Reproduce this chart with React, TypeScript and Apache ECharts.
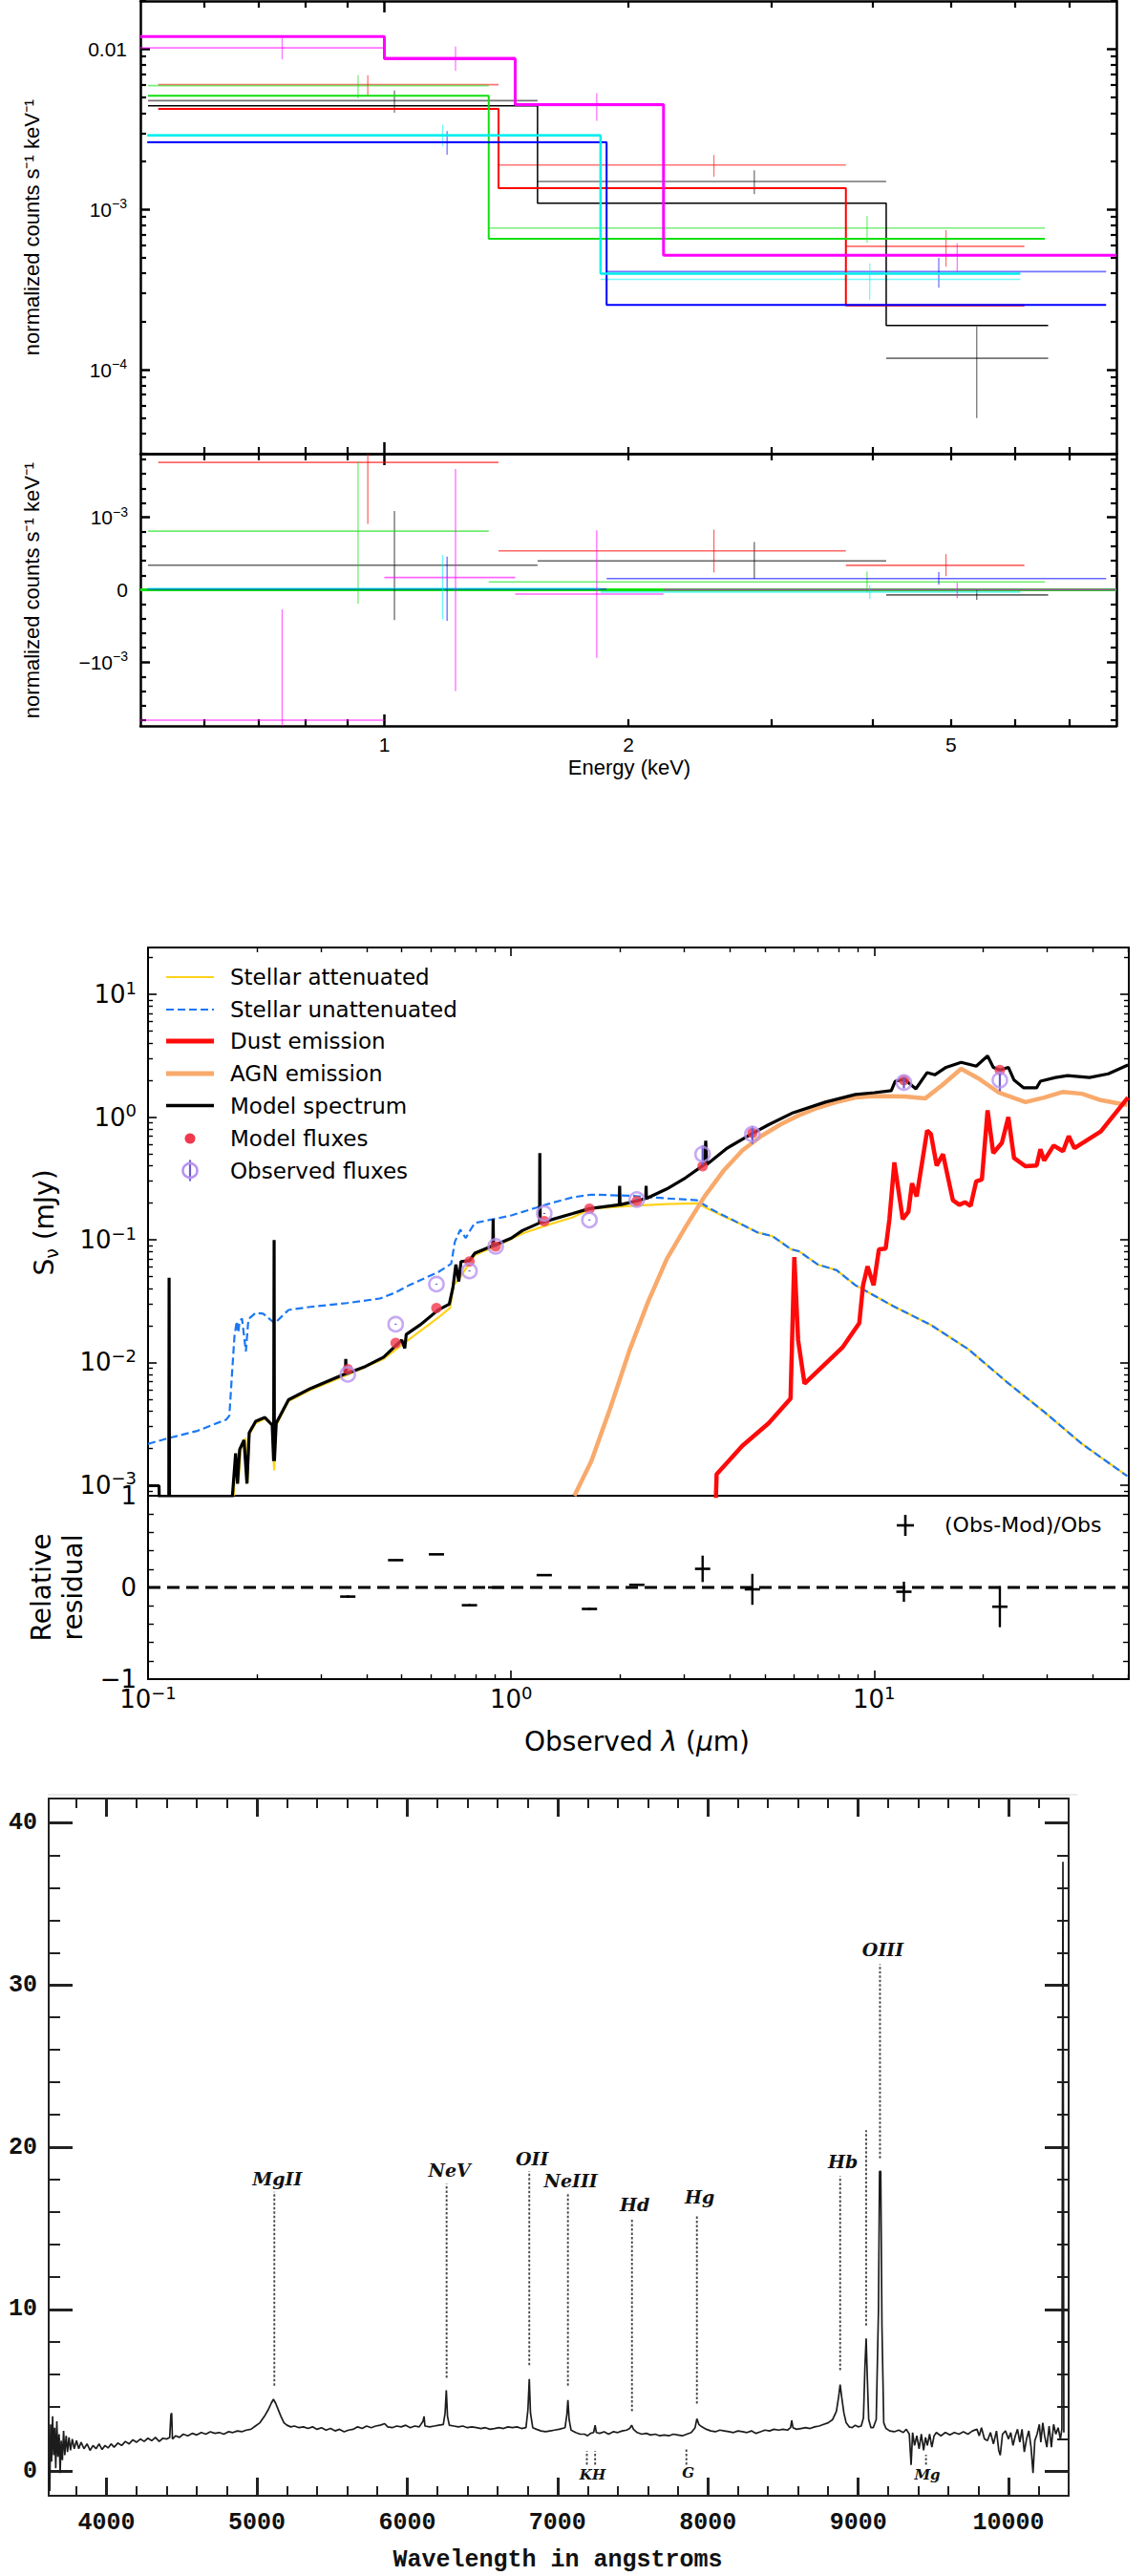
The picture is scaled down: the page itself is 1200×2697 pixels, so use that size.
import React, { useEffect, useRef } from 'react';
import * as echarts from 'echarts';

const lg = (v: number) => Math.log10(v);
const MINUS = '\u2212';

// ================= Panel A: X-ray spectra =================
const energyMin = 0.5;
const energyMax = 8;
const countsMin = 3e-5;
const countsMax = 0.02;
const residCountsMin = -1.88e-3;
const residCountsMax = 1.88e-3;
const energyLabelTicks = [1, 2, 5];
const energyMajorTicks = [1];
const energyMinorTicks = [0.6, 0.7, 0.8, 0.9, 2, 3, 4, 5, 6, 7];
const countsMajorTicks = [1e-4, 1e-3, 1e-2];
const residCountsMajorTicks = [-1e-3, 0, 1e-3];

const xrayColors = ['#000000', '#ff0000', '#10e010', '#0000ff', '#00eeee', '#ff00ff'];
const xrayModelWidths = [1.5, 2, 2, 2, 2.5, 3];

const blackEdges = [0.511, 1.545, 4.16, 6.59];
const blackModel = [0.00444, 0.001097, 0.000189];
const blackData = [0.00478, 0.001496, 0.000118];
const blackErrEnergy = [1.029, 2.86, 5.38];
const blackLow = [0.00402, 0.001248, 0.00005];
const blackHigh = [0.00553, 0.001757, 0.0001866];

const redEdges = [0.526, 1.383, 3.71, 6.16];
const redModel = [0.00425, 0.00136, 0.000252];
const redData = [0.00601, 0.001897, 0.00059];
const redErrEnergy = [0.954, 2.55, 4.93];
const redLow = [0.00516, 0.0016, 0.00044];
const redHigh = [0.00689, 0.00219, 0.000744];

const greenEdges = [0.511, 1.345, 6.53];
const greenModel = [0.00512, 0.000657];
const greenData = [0.00593, 0.000766];
const greenErrEnergy = [0.928, 3.94];
const greenLow = [0.00493, 0.000621];
const greenHigh = [0.00689, 0.000912];

const blueEdges = [0.51, 1.88, 7.77];
const blueModel = [0.00263, 0.000254];
const blueData = [0.00264, 0.00041];
const blueErrEnergy = [1.195, 4.83];
const blueLow = [0.0022, 0.000325];
const blueHigh = [0.00309, 0.000499];

const cyanEdges = [0.51, 1.848, 6.09];
const cyanModel = [0.0029, 0.000398];
const cyanData = [0.00292, 0.000367];
const cyanErrEnergy = [1.18, 3.97];
const cyanLow = [0.00249, 0.000274];
const cyanHigh = [0.00338, 0.000461];

const magentaEdges = [0.5, 1.0, 1.45, 2.21, 8.0];
const magentaModel = [0.012, 0.00873, 0.00451, 0.000518];
const magentaData = [0.0102, 0.0089, 0.00445, 0.00052];
const magentaErrEnergy = [0.748, 1.224, 1.828, 5.09];
const magentaLow = [0.00864, 0.00733, 0.00357, 0.000403];
const magentaHigh = [0.01173, 0.0104, 0.00533, 0.000615];

const xraySets = [
  { name: 'black', edges: blackEdges, model: blackModel, data: blackData, errE: blackErrEnergy, low: blackLow, high: blackHigh },
  { name: 'red', edges: redEdges, model: redModel, data: redData, errE: redErrEnergy, low: redLow, high: redHigh },
  { name: 'green', edges: greenEdges, model: greenModel, data: greenData, errE: greenErrEnergy, low: greenLow, high: greenHigh },
  { name: 'blue', edges: blueEdges, model: blueModel, data: blueData, errE: blueErrEnergy, low: blueLow, high: blueHigh },
  { name: 'cyan', edges: cyanEdges, model: cyanModel, data: cyanData, errE: cyanErrEnergy, low: cyanLow, high: cyanHigh },
  { name: 'magenta', edges: magentaEdges, model: magentaModel, data: magentaData, errE: magentaErrEnergy, low: magentaLow, high: magentaHigh },
];

// ================= Panel B: SED =================
const lambdaMin = 0.1;
const lambdaMax = 50.3;
const fluxMin = 8.2e-4;
const fluxMax = 24.1;
const lambdaMajorTicks = [0.1, 1, 10];
const fluxMajorTicks = [1e-3, 1e-2, 1e-1, 1, 10];
const residMajorTicks = [-1, 0, 1];

const sedNames = ['Stellar attenuated', 'Stellar unattenuated', 'Dust emission', 'AGN emission', 'Model spectrum', 'Model fluxes', 'Observed fluxes'];

const stellarUnattenuated: number[][] = [
  [0.1, 0.00217], [0.1135, 0.00241], [0.1367, 0.00277], [0.1644, 0.00343], [0.1675, 0.00369], [0.1706, 0.00863],
  [0.173, 0.0163], [0.1755, 0.0217], [0.1772, 0.0175], [0.1788, 0.0217], [0.1815, 0.0228], [0.186, 0.0123],
  [0.189, 0.0225], [0.198, 0.0254], [0.2075, 0.025], [0.2198, 0.0217], [0.2234, 0.0209], [0.2438, 0.0268],
  [0.2803, 0.0284], [0.3533, 0.0305], [0.4351, 0.0332], [0.4775, 0.0369], [0.524, 0.0426], [0.6306, 0.0546],
  [0.684, 0.0637], [0.7, 0.0962], [0.7247, 0.1208], [0.75, 0.1032], [0.7767, 0.1233], [0.7949, 0.1371],
  [1.002, 0.158], [1.263, 0.1954], [1.479, 0.222], [1.664, 0.2333], [2.114, 0.2286], [2.685, 0.2173],
  [3.25, 0.21], [3.58, 0.1758], [4.335, 0.1324], [4.77, 0.1148], [5.25, 0.1069], [5.916, 0.0835],
  [6.21, 0.0806], [6.996, 0.0628], [7.886, 0.0565], [8.885, 0.0426], [11.29, 0.0288], [14.34, 0.0202],
  [18.22, 0.01276], [23.14, 0.00698], [29.4, 0.00396], [37.36, 0.00217], [49.8, 0.001186],
];

const stellarAttenuated: number[][] = [
  [0.1722, 0.00082], [0.1748, 0.001815], [0.1772, 0.00103], [0.1805, 0.00209], [0.1856, 0.00241], [0.1878, 0.00103],
  [0.19, 0.00259], [0.198, 0.0032], [0.2099, 0.00348], [0.2198, 0.00309], [0.2225, 0.00132], [0.2255, 0.00309],
  [0.2438, 0.00483], [0.2803, 0.00597], [0.3533, 0.00792], [0.4457, 0.0107], [0.5119, 0.01469], [0.6306, 0.02328],
  [0.6792, 0.0278], [0.695, 0.0426], [0.7161, 0.0473], [0.7949, 0.075], [0.9134, 0.0895], [1.074, 0.1124],
  [1.263, 0.1324], [1.479, 0.1525], [1.664, 0.1795], [2.114, 0.1888], [2.685, 0.1954], [3.25, 0.1982],
  [3.58, 0.172], [4.335, 0.1324], [4.77, 0.1148], [5.25, 0.1069], [5.916, 0.0835], [6.21, 0.0806],
  [6.996, 0.0628], [7.886, 0.0565], [8.885, 0.0426], [11.29, 0.0288], [14.34, 0.0202], [18.22, 0.01276],
  [23.14, 0.00698], [29.4, 0.00396], [37.36, 0.00217], [49.8, 0.001186],
];

const dustEmission: number[][] = [
  [3.665, 0.00077], [3.683, 0.001227], [4.335, 0.00209], [5.125, 0.0032], [5.886, 0.00507], [6.029, 0.0724],
  [6.175, 0.01524], [6.432, 0.00673], [8.173, 0.01321], [9.102, 0.02094], [9.322, 0.04256], [9.594, 0.06067],
  [9.968, 0.04256], [10.31, 0.08356], [10.76, 0.08472], [11.02, 0.1472], [11.37, 0.4266], [11.99, 0.1472],
  [12.43, 0.1694], [12.72, 0.2884], [13.1, 0.2254], [14.0, 0.778], [14.34, 0.726], [14.87, 0.4027],
  [15.48, 0.4977], [16.48, 0.21], [17.17, 0.1928], [17.79, 0.2023], [18.44, 0.1888], [19.11, 0.2992],
  [19.81, 0.3097], [20.54, 1.135], [21.29, 0.5093], [22.49, 0.6166], [23.43, 0.9977], [24.29, 0.4645],
  [26.1, 0.3972], [28.03, 0.4027], [28.71, 0.5458], [29.4, 0.4416], [31.22, 0.5861], [33.15, 0.5272],
  [34.36, 0.6998], [35.61, 0.5585], [42.1, 0.762], [50.03, 1.442],
];

const agnEmission: number[][] = [
  [1.494, 0.00082], [1.664, 0.00157], [1.876, 0.00425], [2.114, 0.0123], [2.382, 0.031], [2.685, 0.0698],
  [3.027, 0.1276], [3.412, 0.2254], [3.846, 0.3648], [4.335, 0.5346], [4.886, 0.6998], [5.507, 0.8673],
  [6.207, 1.035], [6.996, 1.192], [7.886, 1.324], [8.885, 1.442], [10.02, 1.485], [12.13, 1.472],
  [13.84, 1.422], [15.41, 1.824], [17.37, 2.472], [19.57, 2.029], [22.07, 1.581], [26.1, 1.324],
  [29.4, 1.442], [33.15, 1.603], [37.36, 1.549], [42.1, 1.374], [49.8, 1.253],
];

const modelSpectrum: number[][] = [
  [0.1, 0.00099], [0.1072, 0.00099], [0.1074, 0.0008], [0.1141, 0.0008], [0.1143, 0.0491], [0.1146, 0.0008],
  [0.1707, 0.0008], [0.1743, 0.001815], [0.1764, 0.00103], [0.1788, 0.00195], [0.1838, 0.00233], [0.1873, 0.00103],
  [0.19, 0.00268], [0.198, 0.00332], [0.2099, 0.00356], [0.2198, 0.00309], [0.2218, 0.00157], [0.2225, 0.0996],
  [0.2229, 0.00157], [0.2255, 0.0032], [0.2438, 0.00497], [0.2803, 0.00614], [0.3497, 0.0081], [0.3505, 0.0107],
  [0.3513, 0.0081], [0.3967, 0.00927], [0.4457, 0.01106], [0.5, 0.01524], [0.5096, 0.01303], [0.5143, 0.01694],
  [0.5615, 0.02023], [0.6306, 0.02685], [0.6759, 0.02985], [0.6918, 0.04111], [0.7047, 0.0628], [0.7178, 0.0457],
  [0.728, 0.0665], [0.7676, 0.0675], [0.7949, 0.0778], [0.8905, 0.0895], [0.8926, 0.147], [0.8946, 0.0895],
  [1.002, 0.1032], [1.074, 0.1189], [1.198, 0.1371], [1.2, 0.509], [1.203, 0.1371], [1.479, 0.1637],
  [1.644, 0.1795], [1.986, 0.1928], [1.991, 0.2748], [1.996, 0.1928], [2.218, 0.207], [2.349, 0.2173],
  [2.355, 0.2748], [2.36, 0.2173], [2.685, 0.2594], [3.027, 0.3206], [3.412, 0.4111], [3.437, 0.6427],
  [3.46, 0.4111], [3.938, 0.5585], [4.624, 0.7362], [5.125, 0.8673], [5.987, 1.086], [7.338, 1.324],
  [8.885, 1.527], [10.02, 1.581], [11.15, 1.641], [11.43, 1.959], [12.13, 2.029], [13.03, 1.698],
  [14.0, 2.306], [14.69, 2.21], [15.79, 2.545], [17.37, 2.793], [19.11, 2.6], [20.54, 3.148],
  [21.29, 2.545], [22.23, 2.421], [23.43, 2.545], [24.29, 2.0], [25.78, 1.734], [28.03, 1.734],
  [28.71, 1.959], [31.59, 2.099], [34.12, 2.178], [39.2, 2.099], [44.17, 2.254], [50.03, 2.655],
];

const bandWavelengths = [0.355, 0.481, 0.623, 0.768, 0.907, 1.234, 1.644, 2.22, 3.37, 4.62, 12.08, 22.2];
const modelFluxes = [0.0088, 0.0144, 0.0278, 0.0665, 0.0883, 0.142, 0.179, 0.207, 0.397, 0.741, 2.0, 2.42];
const observedFluxes = [0.008, 0.0205, 0.0435, 0.0557, 0.0883, 0.164, 0.145, 0.213, 0.498, 0.726, 1.91, 2.0];
const observedErrors = [0.0001, 0.0002, 0.0004, 0.0006, 0.0009, 0.0016, 0.0015, 0.002, 0.09, 0.12, 0.2, 0.37];

// ================= Panel C: optical spectrum =================
const waveMin = 3615;
const waveMax = 10400;
const optFluxMin = -1.5;
const optFluxMax = 41.5;
const waveMajorTicks = [4000, 5000, 6000, 7000, 8000, 9000, 10000];
const optFluxMajorTicks = [0, 10, 20, 30, 40];

const opticalSpectrum: number[][] = [
  [3616, 0.3], [3622, -1.2], [3628, 2.9], [3634, 0.6], [3641, 3.4], [3648, 1.0], [3655, 2.7], [3662, 0.2],
  [3669, 3.1], [3676, 0.9], [3684, 2.3], [3691, -0.1], [3698, 1.9], [3706, 0.7], [3714, 2.5], [3722, 1.0],
  [3731, 2.2], [3740, 1.2], [3750, 2.1], [3760, 1.3], [3772, 2.0], [3785, 1.4], [3800, 1.9], [3815, 1.4],
  [3830, 1.8], [3850, 1.4], [3870, 1.7], [3890, 1.3], [3910, 1.6], [3930, 1.4], [3950, 1.7], [3970, 1.35],
  [3990, 1.6], [4010, 1.45], [4030, 1.7], [4050, 1.5], [4075, 1.75], [4100, 1.6], [4125, 1.85], [4150, 1.7],
  [4175, 1.95], [4200, 1.8], [4225, 2.0], [4250, 1.85], [4275, 2.05], [4300, 1.9], [4325, 2.1], [4350, 1.85],
  [4375, 2.05], [4400, 2.0], [4420, 2.1], [4428, 3.5], [4433, 3.6], [4438, 2.0], [4460, 2.2], [4485, 2.1],
  [4510, 2.3], [4540, 2.2], [4570, 2.35], [4600, 2.25], [4630, 2.4], [4660, 2.3], [4690, 2.45], [4720, 2.35],
  [4750, 2.4], [4780, 2.3], [4810, 2.45], [4840, 2.4], [4870, 2.5], [4900, 2.45], [4930, 2.55], [4960, 2.6],
  [4990, 2.8], [5020, 3.0], [5050, 3.4], [5075, 3.8], [5095, 4.2], [5110, 4.45], [5125, 4.2], [5140, 3.85],
  [5160, 3.4], [5180, 3.0], [5200, 2.85], [5225, 2.75], [5250, 2.8], [5280, 2.7], [5310, 2.75], [5340, 2.65],
  [5370, 2.75], [5400, 2.6], [5430, 2.7], [5460, 2.55], [5490, 2.65], [5520, 2.5], [5550, 2.6], [5580, 2.45],
  [5610, 2.55], [5640, 2.6], [5670, 2.75], [5700, 2.65], [5730, 2.8], [5760, 2.7], [5790, 2.8], [5820, 2.85],
  [5850, 2.95], [5870, 2.75], [5900, 2.7], [5930, 2.8], [5960, 2.75], [5990, 2.85], [6020, 2.7], [6050, 2.8],
  [6080, 2.75], [6105, 3.1], [6112, 3.4], [6118, 2.8], [6150, 2.75], [6180, 2.8], [6210, 2.85], [6240, 2.9],
  [6252, 3.6], [6260, 5.0], [6268, 3.4], [6280, 2.85], [6310, 2.8], [6340, 2.75], [6370, 2.8], [6400, 2.7],
  [6430, 2.75], [6460, 2.7], [6490, 2.65], [6520, 2.7], [6550, 2.6], [6580, 2.65], [6610, 2.7], [6640, 2.65],
  [6670, 2.75], [6700, 2.7], [6730, 2.75], [6760, 2.65], [6790, 2.7], [6803, 3.8], [6812, 5.7], [6820, 3.6],
  [6835, 2.7], [6860, 2.6], [6890, 2.5], [6920, 2.45], [6950, 2.5], [6980, 2.55], [7010, 2.6], [7050, 2.7],
  [7062, 3.5], [7069, 4.4], [7077, 3.2], [7090, 2.55], [7120, 2.4], [7150, 2.3], [7180, 2.3], [7200, 2.2],
  [7220, 2.35], [7240, 2.4], [7250, 2.85], [7258, 2.4], [7280, 2.35], [7310, 2.45], [7340, 2.3], [7370, 2.45],
  [7400, 2.4], [7430, 2.5], [7460, 2.55], [7480, 2.65], [7493, 2.85], [7505, 2.6], [7530, 2.4], [7560, 2.3],
  [7590, 2.35], [7620, 2.25], [7650, 2.3], [7680, 2.2], [7710, 2.25], [7740, 2.2], [7770, 2.3], [7800, 2.25],
  [7830, 2.2], [7860, 2.3], [7890, 2.4], [7915, 2.7], [7927, 3.25], [7940, 2.9], [7960, 2.75], [7990, 2.6],
  [8020, 2.5], [8050, 2.45], [8080, 2.55], [8110, 2.5], [8140, 2.45], [8170, 2.4], [8200, 2.5], [8230, 2.45],
  [8260, 2.4], [8290, 2.5], [8320, 2.35], [8350, 2.45], [8380, 2.55], [8410, 2.5], [8440, 2.6], [8470, 2.55],
  [8500, 2.6], [8530, 2.55], [8550, 2.7], [8558, 3.15], [8566, 2.7], [8590, 2.6], [8620, 2.65], [8650, 2.7],
  [8680, 2.65], [8710, 2.75], [8740, 2.8], [8770, 2.9], [8800, 3.0], [8830, 3.2], [8855, 3.7], [8870, 4.6],
  [8880, 5.35], [8890, 4.6], [8905, 3.6], [8920, 3.0], [8940, 2.75], [8960, 2.7], [8980, 2.85], [9000, 2.75],
  [9020, 2.8], [9035, 3.3], [9045, 6.5], [9053, 8.2], [9060, 6.0], [9070, 3.2], [9085, 2.7], [9100, 2.7],
  [9120, 3.2], [9135, 10.0], [9142, 18.5], [9150, 18.5], [9158, 9.0], [9170, 3.0], [9185, 2.65], [9210, 2.5],
  [9240, 2.45], [9270, 2.55], [9300, 2.4], [9320, 2.6], [9340, 2.3], [9352, 0.4], [9362, 2.4], [9375, 1.6],
  [9390, 2.2], [9405, 1.4], [9420, 2.3], [9435, 1.3], [9448, 2.1], [9460, 1.6], [9475, 2.3], [9490, 1.5],
  [9505, 2.2], [9520, 2.4], [9550, 2.2], [9580, 2.4], [9610, 2.25], [9640, 2.4], [9670, 2.3], [9700, 2.45],
  [9730, 2.3], [9760, 2.5], [9790, 2.6], [9805, 2.2], [9820, 2.7], [9840, 2.0], [9860, 1.9], [9880, 2.4],
  [9900, 1.7], [9920, 2.5], [9935, 1.3], [9945, 1.0], [9960, 2.3], [9980, 2.5], [10000, 2.0], [10015, 2.4],
  [10030, 1.6], [10045, 2.2], [10060, 2.6], [10075, 1.8], [10090, 2.6], [10105, 1.2], [10120, 2.0], [10135, 2.5],
  [10150, 1.5], [10163, -0.1], [10175, 1.9], [10190, 2.3], [10205, 2.9], [10215, 1.8], [10228, 3.0], [10240, 2.2],
  [10255, 1.5], [10270, 2.8], [10285, 1.5], [10300, 2.9], [10315, 2.3], [10330, 2.7], [10345, 2.0], [10355, 2.6],
  [10362, 37.6], [10368, 2.4],
];

const emissionNames = ['MgII', 'NeV', 'OII', 'NeIII', 'Hd', 'Hg', 'Hb', 'OIII', ''];
const emissionWaves = [5116, 6262, 6812, 7069, 7495, 7927, 8880, 9145, 9053];
const emissionLineBottom = [5.29, 5.77, 6.55, 5.29, 3.72, 4.19, 6.24, 19.31, 9.0];
const emissionLineTop = [17.25, 17.73, 18.52, 17.2, 15.62, 15.75, 18.21, 31.28, 21.04];
const emissionLabelY = [18.05, 18.58, 19.31, 17.96, 16.47, 16.94, 19.09, 32.22, 0];

const absorptionLineWaves = [7195, 7250, 7857, 9451];
const absorptionLineTop = [1.26, 1.26, 1.36, 1.04];
const absorptionLineBottom = [0.41, 0.41, 0.41, 0.41];
const absorptionNames = ['KH', 'G', 'Mg'];
const absorptionLabelWaves = [7220, 7857, 9447];
const absorptionLabelY = [-0.22, -0.07, -0.22];

// ================= helpers =================
function decadeMinors(lo: number, hi: number) {
  const out: number[] = [];
  for (let e = Math.floor(Math.log10(lo)); e <= Math.ceil(Math.log10(hi)); e++) {
    for (let k = 2; k <= 9; k++) {
      const v = k * Math.pow(10, e);
      if (v >= lo * 0.9999 && v <= hi * 1.0001) out.push(v);
    }
  }
  return out;
}
function linearMinors(lo: number, hi: number, step: number, majorStep: number) {
  const out: number[] = [];
  const n0 = Math.ceil(lo / step - 1e-9);
  const n1 = Math.floor(hi / step + 1e-9);
  for (let n = n0; n <= n1; n++) {
    const v = n * step;
    const r = v / majorStep;
    if (Math.abs(r - Math.round(r)) > 1e-6) out.push(v);
  }
  return out;
}

function buildAxes(dim: 'x' | 'y', gridIndex: number, cfg: any) {
  const sides = dim === 'x' ? ['bottom', 'top'] : ['left', 'right'];
  const list: any[] = [];
  sides.forEach((side, si) => {
    const ticksOn = si === 0 ? cfg.primaryTicks !== false : cfg.secondaryTicks !== false;
    const base = {
      type: 'value', gridIndex, position: side, min: cfg.min, max: cfg.max,
      splitLine: { show: false }, minorTick: { show: false }, minorSplitLine: { show: false },
      silent: true, axisPointer: { show: false },
    };
    list.push({
      ...base,
      axisLine: { show: true, onZero: false, lineStyle: { color: cfg.color, width: cfg.lineWidth } },
      axisTick: { show: ticksOn, inside: true, length: cfg.majorLen, customValues: cfg.major, lineStyle: { color: cfg.color, width: cfg.majorWidth } },
      axisLabel: si === 0 && cfg.labels
        ? { show: true, customValues: cfg.labels, formatter: cfg.fmt, margin: cfg.margin, ...cfg.labelStyle }
        : { show: false },
    });
    list.push({
      ...base,
      axisLine: { show: false, onZero: false },
      axisTick: { show: ticksOn, inside: true, length: cfg.minorLen, customValues: cfg.minor, lineStyle: { color: cfg.color, width: cfg.minorWidth } },
      axisLabel: { show: false },
    });
  });
  return list;
}

function clampFns(cs: any) {
  return {
    cx: (v: number) => Math.max(cs.x, Math.min(cs.x + cs.width, v)),
    cy: (v: number) => Math.max(cs.y, Math.min(cs.y + cs.height, v)),
    inY: (v: number) => v >= cs.y - 0.5 && v <= cs.y + cs.height + 0.5,
  };
}

function crossRenderer(color: string, lw: number, opacity: number) {
  return (params: any, api: any) => {
    const { cx, cy, inY } = clampFns(params.coordSys);
    const pL = api.coord([api.value(0), api.value(3)]);
    const pR = api.coord([api.value(1), api.value(3)]);
    const pT = api.coord([api.value(2), api.value(5)]);
    const pB = api.coord([api.value(2), api.value(4)]);
    const children: any[] = [];
    if (inY(pL[1])) {
      children.push({ type: 'line', shape: { x1: cx(pL[0]), y1: pL[1], x2: cx(pR[0]), y2: pR[1] }, style: { stroke: color, lineWidth: lw, opacity } });
    }
    children.push({ type: 'line', shape: { x1: pT[0], y1: cy(pT[1]), x2: pB[0], y2: cy(pB[1]) }, style: { stroke: color, lineWidth: lw * 0.8, opacity } });
    return { type: 'group', children };
  };
}

function textStyle(text: string, size: number, family: string, extra: any = {}) {
  return {
    text, fontSize: size, fontFamily: family, fill: '#000',
    align: 'center', verticalAlign: 'middle', textAlign: 'center', textVerticalAlign: 'middle',
    ...extra,
  };
}

function buildOption() {
  const grids = [
    { left: 147, top: 1, width: 1022, height: 474 },
    { left: 147, top: 475, width: 1022, height: 285 },
    { left: 155, top: 992, width: 1027, height: 574 },
    { left: 155, top: 1566, width: 1027, height: 192 },
    { left: 51, top: 1883, width: 1068, height: 730 },
  ];

  const xrayLabelStyle = {
    fontFamily: 'Liberation Sans', fontSize: 21, color: '#000', lineHeight: 26,
    rich: { s: { fontFamily: 'Liberation Sans', fontSize: 14, lineHeight: 14, verticalAlign: 'top', color: '#000' } },
  };
  const sedLabelStyle = {
    fontFamily: 'DejaVu Sans', fontSize: 26, color: '#000', lineHeight: 32,
    rich: { s: { fontFamily: 'DejaVu Sans', fontSize: 18, lineHeight: 18, verticalAlign: 'top', color: '#000' } },
  };
  const optLabelStyle = { fontFamily: 'Liberation Mono', fontWeight: 'bold', fontSize: 25, color: '#111' };

  const powFmt = (v: number) => {
    const n = Math.round(v);
    return '10{s|' + (n < 0 ? MINUS + (-n) : String(n)) + '}';
  };

  const xrayX = {
    min: lg(energyMin), max: lg(energyMax), major: energyMajorTicks.map(lg), minor: energyMinorTicks.map(lg),
    majorLen: 12, minorLen: 7, color: '#000', lineWidth: 2.5, majorWidth: 2.5, minorWidth: 2.2,
    fmt: (v: number) => String(Math.round(Math.pow(10, v))), margin: 6, labelStyle: xrayLabelStyle,
  };
  const xrayYUpper = {
    min: lg(countsMin), max: lg(countsMax), major: countsMajorTicks.map(lg), minor: decadeMinors(countsMin, countsMax).map(lg),
    majorLen: 10, minorLen: 6, color: '#000', lineWidth: 2.5, majorWidth: 2.5, minorWidth: 2.2,
    labels: countsMajorTicks.map(lg),
    fmt: (v: number) => (Math.round(v) === -2 ? '0.01' : powFmt(v)), margin: 14, labelStyle: xrayLabelStyle,
  };
  const xrayYResid = {
    min: residCountsMin, max: residCountsMax, major: residCountsMajorTicks, minor: linearMinors(residCountsMin, residCountsMax, 2e-4, 1e-3),
    majorLen: 10, minorLen: 6, color: '#000', lineWidth: 2.5, majorWidth: 2.5, minorWidth: 2.2,
    labels: residCountsMajorTicks,
    fmt: (v: number) => (Math.abs(v) < 1e-9 ? '0' : (v > 0 ? '' : MINUS) + '10{s|' + MINUS + '3}'), margin: 13, labelStyle: xrayLabelStyle,
  };

  const sedX = {
    min: lg(lambdaMin), max: lg(lambdaMax), major: lambdaMajorTicks.map(lg), minor: decadeMinors(lambdaMin, lambdaMax).map(lg),
    majorLen: 9, minorLen: 5, color: '#000', lineWidth: 2, majorWidth: 1.6, minorWidth: 1.4,
    fmt: powFmt, margin: 5, labelStyle: sedLabelStyle,
  };
  const sedY = {
    min: lg(fluxMin), max: lg(fluxMax), major: fluxMajorTicks.map(lg), minor: decadeMinors(fluxMin, fluxMax).map(lg),
    majorLen: 9, minorLen: 5, color: '#000', lineWidth: 2, majorWidth: 1.6, minorWidth: 1.4,
    labels: fluxMajorTicks.map(lg), fmt: powFmt, margin: 12, labelStyle: sedLabelStyle,
  };
  const sedYResid = {
    min: -1, max: 1, major: residMajorTicks, minor: linearMinors(-1, 1, 0.2, 1),
    majorLen: 6, minorLen: 6, color: '#000', lineWidth: 2, majorWidth: 1.6, minorWidth: 1.4,
    labels: residMajorTicks, fmt: (v: number) => (Math.abs(v) < 1e-9 ? '0' : v > 0 ? '1' : MINUS + '1'),
    margin: 12, labelStyle: sedLabelStyle,
  };

  const optX = {
    min: waveMin, max: waveMax, major: waveMajorTicks, minor: linearMinors(waveMin, waveMax, 200, 1000),
    majorLen: 19, minorLen: 10, color: '#222', lineWidth: 2, majorWidth: 3, minorWidth: 2,
    labels: waveMajorTicks, fmt: (v: number) => String(Math.round(v)), margin: 16, labelStyle: optLabelStyle,
  };
  const optY = {
    min: optFluxMin, max: optFluxMax, major: optFluxMajorTicks, minor: linearMinors(optFluxMin, optFluxMax, 2, 10),
    majorLen: 25, minorLen: 12, color: '#222', lineWidth: 2, majorWidth: 3, minorWidth: 2,
    labels: optFluxMajorTicks, fmt: (v: number) => String(Math.round(v)), margin: 12, labelStyle: optLabelStyle,
  };

  const xAxis = [
    ...buildAxes('x', 0, xrayX),
    ...buildAxes('x', 1, { ...xrayX, labels: energyLabelTicks.map(lg) }),
    ...buildAxes('x', 2, { ...sedX, primaryTicks: false }),
    ...buildAxes('x', 3, { ...sedX, labels: lambdaMajorTicks.map(lg), secondaryTicks: false }),
    ...buildAxes('x', 4, optX),
  ];
  const yAxis = [
    ...buildAxes('y', 0, xrayYUpper),
    ...buildAxes('y', 1, xrayYResid),
    ...buildAxes('y', 2, sedY),
    ...buildAxes('y', 3, sedYResid),
    ...buildAxes('y', 4, optY),
  ];

  const series: any[] = [];

  // ---- X-ray ----
  xraySets.forEach((s, k) => {
    const color = xrayColors[k];
    series.push({
      type: 'line', name: s.name + ' model', xAxisIndex: 0, yAxisIndex: 0, step: 'end', symbol: 'none', silent: true, z: 4,
      data: s.edges.map((e, i) => [lg(e), lg(s.model[Math.min(i, s.model.length - 1)])]),
      lineStyle: { color, width: xrayModelWidths[k] },
    });
    series.push({
      type: 'custom', name: s.name + ' data', xAxisIndex: 0, yAxisIndex: 0, silent: true, z: 3,
      encode: { x: [0, 1, 2], y: [3, 4, 5] },
      data: s.data.map((d, i) => [lg(s.edges[i]), lg(s.edges[i + 1]), lg(s.errE[i]), lg(d), lg(s.low[i]), lg(s.high[i])]),
      renderItem: crossRenderer(color, 1.6, 0.55),
    });
    series.push({
      type: 'custom', name: s.name + ' residual', xAxisIndex: 4, yAxisIndex: 4, silent: true, z: 3,
      encode: { x: [0, 1, 2], y: [3, 4, 5] },
      data: s.data.map((d, i) => {
        const r = d - s.model[i];
        return [lg(s.edges[i]), lg(s.edges[i + 1]), lg(s.errE[i]), r, r - (d - s.low[i]), r + (s.high[i] - d)];
      }),
      renderItem: crossRenderer(color, 1.6, 0.6),
    });
  });
  series.push({
    type: 'line', name: 'zero residual', xAxisIndex: 4, yAxisIndex: 4, symbol: 'none', silent: true, z: 2,
    data: [[lg(energyMin), 0], [lg(energyMax), 0]],
    lineStyle: { color: '#10e010', width: 3 },
  });

  // ---- SED ----
  const toLog = (arr: number[][]) => arr.map(([x, y]) => [lg(x), lg(y)]);
  series.push({ type: 'line', name: sedNames[0], xAxisIndex: 8, yAxisIndex: 8, symbol: 'none', silent: true, z: 2,
    data: toLog(stellarAttenuated), lineStyle: { color: '#FFD21A', width: 2.2 } });
  series.push({ type: 'line', name: sedNames[1], xAxisIndex: 8, yAxisIndex: 8, symbol: 'none', silent: true, z: 3,
    data: toLog(stellarUnattenuated), lineStyle: { color: '#1a78f5', width: 2.2, type: [8, 4] } });
  series.push({ type: 'line', name: sedNames[3], xAxisIndex: 8, yAxisIndex: 8, symbol: 'none', silent: true, z: 4,
    data: toLog(agnEmission), lineStyle: { color: '#F8AA6C', width: 4.5 } });
  series.push({ type: 'line', name: sedNames[2], xAxisIndex: 8, yAxisIndex: 8, symbol: 'none', silent: true, z: 5,
    data: toLog(dustEmission), lineStyle: { color: '#FF0A0A', width: 4.5 } });
  series.push({ type: 'line', name: sedNames[4], xAxisIndex: 8, yAxisIndex: 8, symbol: 'none', silent: true, z: 6,
    data: toLog(modelSpectrum), lineStyle: { color: '#000', width: 3.2 } });
  series.push({ type: 'scatter', name: sedNames[5], xAxisIndex: 8, yAxisIndex: 8, silent: true, z: 7,
    symbol: 'circle', symbolSize: 11,
    data: bandWavelengths.map((l, i) => [lg(l), lg(modelFluxes[i])]), itemStyle: { color: '#F2384C' } });
  series.push({ type: 'custom', name: 'Observed errors', xAxisIndex: 8, yAxisIndex: 8, silent: true, z: 8,
    encode: { x: 0, y: [1, 2] },
    data: bandWavelengths.map((l, i) => [lg(l), lg(observedFluxes[i] - observedErrors[i]), lg(observedFluxes[i] + observedErrors[i])]),
    renderItem: (params: any, api: any) => {
      const a = api.coord([api.value(0), api.value(1)]);
      const b = api.coord([api.value(0), api.value(2)]);
      return { type: 'line', shape: { x1: a[0], y1: a[1], x2: b[0], y2: b[1] }, style: { stroke: '#6A5ACD', lineWidth: 2.2 } };
    } });
  series.push({ type: 'scatter', name: sedNames[6], xAxisIndex: 8, yAxisIndex: 8, silent: true, z: 9,
    symbol: 'circle', symbolSize: 15,
    data: bandWavelengths.map((l, i) => [lg(l), lg(observedFluxes[i])]),
    itemStyle: { color: 'rgba(0,0,0,0)', borderColor: '#B893F0', borderWidth: 2.6 } });

  // SED residuals
  series.push({ type: 'line', name: 'zero', xAxisIndex: 12, yAxisIndex: 12, symbol: 'none', silent: true, z: 2,
    data: [[lg(lambdaMin), 0], [lg(lambdaMax), 0]], lineStyle: { color: '#000', width: 3, type: [13, 7] } });
  series.push({ type: 'custom', name: '(Obs-Mod)/Obs', xAxisIndex: 12, yAxisIndex: 12, silent: true, z: 3,
    encode: { x: 0, y: [1, 2, 3] },
    data: bandWavelengths.map((l, i) => {
      const o = observedFluxes[i];
      const m = modelFluxes[i];
      const r = (o - m) / o;
      const e = (m * observedErrors[i]) / (o * o);
      return [lg(l), r, r - e, r + e];
    }),
    renderItem: (params: any, api: any) => {
      const { cy } = clampFns(params.coordSys);
      const c = api.coord([api.value(0), api.value(1)]);
      const lo = api.coord([api.value(0), api.value(2)]);
      const hi = api.coord([api.value(0), api.value(3)]);
      return { type: 'group', children: [
        { type: 'line', shape: { x1: c[0] - 8, y1: c[1], x2: c[0] + 8, y2: c[1] }, style: { stroke: '#000', lineWidth: 2.6 } },
        { type: 'line', shape: { x1: c[0], y1: cy(lo[1]), x2: c[0], y2: cy(hi[1]) }, style: { stroke: '#000', lineWidth: 2.4 } },
      ] };
    } });

  // ---- optical ----
  const annotFont = { fontStyle: 'italic', fontWeight: 'bold', fill: '#111' };
  series.push({ type: 'line', name: 'Spectrum', xAxisIndex: 16, yAxisIndex: 16, symbol: 'none', silent: true, z: 3,
    data: opticalSpectrum, lineStyle: { color: '#1c1c1c', width: 1.7 } });
  series.push({ type: 'custom', name: 'Emission lines', xAxisIndex: 16, yAxisIndex: 16, silent: true, z: 2,
    encode: { x: 0, y: [1, 2, 3] },
    data: emissionWaves.map((w, i) => [w, emissionLineBottom[i], emissionLineTop[i], emissionLabelY[i]]),
    renderItem: (params: any, api: any) => {
      const a = api.coord([api.value(0), api.value(1)]);
      const b = api.coord([api.value(0), api.value(2)]);
      const t = api.coord([api.value(0), api.value(3)]);
      const label = emissionNames[params.dataIndex];
      const children: any[] = [
        { type: 'line', shape: { x1: a[0], y1: a[1], x2: b[0], y2: b[1] }, style: { stroke: '#4a4a4a', lineWidth: 1.9, lineDash: [2.5, 2] } },
      ];
      if (label) {
        children.push({ type: 'text', x: t[0] + 3, y: t[1], style: textStyle(label, 19, 'DejaVu Serif', annotFont) });
      }
      return { type: 'group', children };
    } });
  series.push({ type: 'custom', name: 'Absorption lines', xAxisIndex: 16, yAxisIndex: 16, silent: true, z: 2,
    encode: { x: 0, y: [1, 2] },
    data: absorptionLineWaves.map((w, i) => [w, absorptionLineBottom[i], absorptionLineTop[i]]),
    renderItem: (params: any, api: any) => {
      const a = api.coord([api.value(0), api.value(1)]);
      const b = api.coord([api.value(0), api.value(2)]);
      return { type: 'line', shape: { x1: a[0], y1: a[1], x2: b[0], y2: b[1] }, style: { stroke: '#4a4a4a', lineWidth: 1.9, lineDash: [2.5, 2] } };
    } });
  series.push({ type: 'custom', name: 'Absorption labels', xAxisIndex: 16, yAxisIndex: 16, silent: true, z: 2,
    encode: { x: 0, y: 1 },
    data: absorptionLabelWaves.map((w, i) => [w, absorptionLabelY[i]]),
    renderItem: (params: any, api: any) => {
      const t = api.coord([api.value(0), api.value(1)]);
      return { type: 'text', x: t[0] + 2, y: t[1], style: textStyle(absorptionNames[params.dataIndex], 15, 'DejaVu Serif', annotFont) };
    } });

  // ---- graphic: titles & legend ----
  const legendRows = [1023, 1057, 1090, 1124, 1157.5, 1192, 1225.5];
  const lx0 = 174, lx1 = 224, ltx = 241, lmid = 199;
  const legendText = (i: number) => ({ type: 'text', x: ltx, y: legendRows[i],
    style: textStyle(sedNames[i], 23, 'DejaVu Sans', { align: 'left', textAlign: 'left' }) });
  const graphic: any[] = [
    { type: 'text', x: 33, y: 238, rotation: Math.PI / 2, style: textStyle('normalized counts s\u207B\u00B9 keV\u207B\u00B9', 22, 'Liberation Sans') },
    { type: 'text', x: 33, y: 618, rotation: Math.PI / 2, style: textStyle('normalized counts s\u207B\u00B9 keV\u207B\u00B9', 22, 'Liberation Sans') },
    { type: 'text', x: 659, y: 803, style: textStyle('Energy (keV)', 22, 'Liberation Sans') },

    { type: 'text', x: 46, y: 1280, rotation: Math.PI / 2,
      style: textStyle('S{sub|\u03BD} (mJy)', 28, 'DejaVu Sans', { lineHeight: 34,
        rich: { sub: { fontSize: 19, fontFamily: 'DejaVu Sans', lineHeight: 19, verticalAlign: 'bottom', fill: '#000' } } }) },
    { type: 'text', x: 60, y: 1662, rotation: Math.PI / 2, style: textStyle('Relative\nresidual', 28, 'DejaVu Sans', { lineHeight: 33 }) },
    { type: 'text', x: 667, y: 1823,
      style: textStyle('Observed {i|\u03BB} ({i|\u03BC}m)', 28, 'DejaVu Sans', { lineHeight: 34,
        rich: { i: { fontSize: 28, fontFamily: 'DejaVu Sans', fontStyle: 'italic', lineHeight: 34, fill: '#000' } } }) },

    // SED legend
    { type: 'line', shape: { x1: lx0, y1: legendRows[0], x2: lx1, y2: legendRows[0] }, style: { stroke: '#FFD21A', lineWidth: 2.2 } },
    legendText(0),
    { type: 'line', shape: { x1: lx0, y1: legendRows[1], x2: lx1, y2: legendRows[1] }, style: { stroke: '#1a78f5', lineWidth: 2.2, lineDash: [8, 4] } },
    legendText(1),
    { type: 'line', shape: { x1: lx0, y1: legendRows[2], x2: lx1, y2: legendRows[2] }, style: { stroke: '#FF0A0A', lineWidth: 5 } },
    legendText(2),
    { type: 'line', shape: { x1: lx0, y1: legendRows[3], x2: lx1, y2: legendRows[3] }, style: { stroke: '#F8AA6C', lineWidth: 5 } },
    legendText(3),
    { type: 'line', shape: { x1: lx0, y1: legendRows[4], x2: lx1, y2: legendRows[4] }, style: { stroke: '#000', lineWidth: 3.5 } },
    legendText(4),
    { type: 'circle', shape: { cx: lmid, cy: legendRows[5], r: 5.5 }, style: { fill: '#F2384C' } },
    legendText(5),
    { type: 'line', shape: { x1: lmid, y1: legendRows[6] - 11, x2: lmid, y2: legendRows[6] + 11 }, style: { stroke: '#6A5ACD', lineWidth: 2.2 } },
    { type: 'circle', shape: { cx: lmid, cy: legendRows[6], r: 7.5 }, style: { fill: 'none', stroke: '#B893F0', lineWidth: 2.6 } },
    legendText(6),

    // residual legend
    { type: 'line', shape: { x1: 939, y1: 1597, x2: 957, y2: 1597 }, style: { stroke: '#000', lineWidth: 2.6 } },
    { type: 'line', shape: { x1: 948, y1: 1586, x2: 948, y2: 1608 }, style: { stroke: '#000', lineWidth: 2.6 } },
    { type: 'text', x: 989, y: 1596, style: textStyle('(Obs-Mod)/Obs', 22, 'DejaVu Sans', { align: 'left', textAlign: 'left' }) },

    // optical title and image edge
    { type: 'line', shape: { x1: 50, y1: 1879, x2: 1128, y2: 1879 }, style: { stroke: '#e4e4e4', lineWidth: 1.5 } },
    { type: 'text', x: 584, y: 2680, style: textStyle('Wavelength in angstroms', 25, 'Liberation Mono', { fontWeight: 'bold', fill: '#111' }) },
  ];

  return {
    animation: false,
    backgroundColor: '#ffffff',
    grid: grids,
    xAxis,
    yAxis,
    series,
    graphic,
  };
}

export default function App() {
  const ref = useRef<HTMLDivElement>(null);
  useEffect(() => {
    if (!ref.current) return;
    const chart = echarts.init(ref.current, undefined, { renderer: 'svg', width: 1200, height: 2697 });
    chart.setOption(buildOption() as any);
    return () => {
      chart.dispose();
    };
  }, []);
  return (
    <div
      ref={ref}
      style={{ position: 'fixed', left: 0, top: 0, width: 1200, height: 2697, background: '#fff' }}
    />
  );
}
